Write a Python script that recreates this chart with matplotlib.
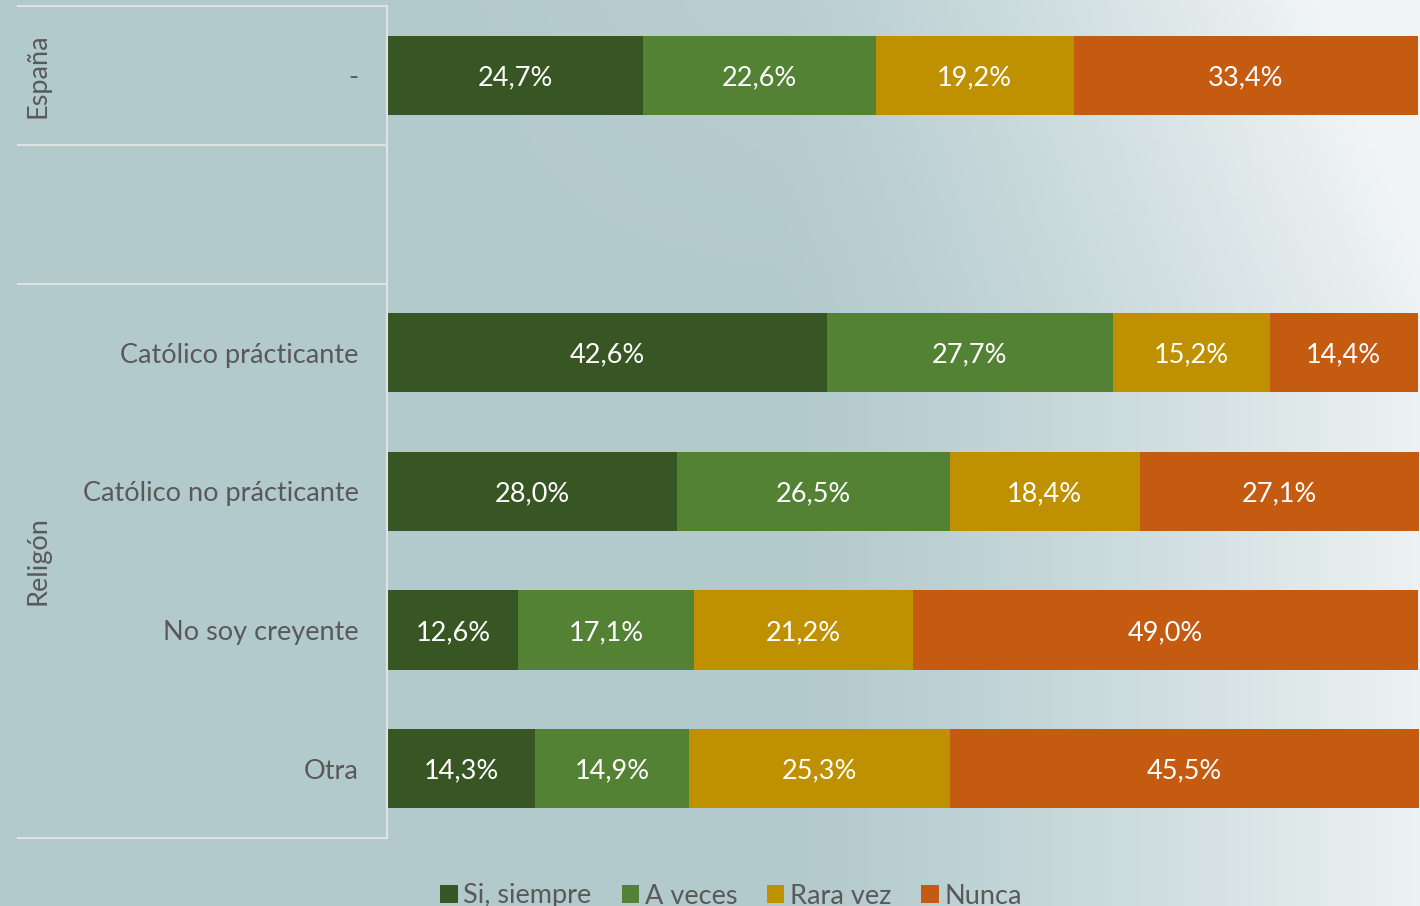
"""
Frecuencia por religión - barras apiladas 100%
"""
import numpy as np
import matplotlib
matplotlib.use('Agg')
from matplotlib import pyplot as plt
from matplotlib.lines import Line2D

plt.rcParams['font.family'] = ['Lato', 'DejaVu Sans']

rowLabels = ['-', '', 'Católico prácticante', 'Católico no prácticante',
             'No soy creyente', 'Otra']
seriesNames = ['Si, siempre', 'A veces', 'Rara vez', 'Nunca']
siempre = [24.7, np.nan, 42.6, 28.0, 12.6, 14.3]
aVeces = [22.6, np.nan, 27.7, 26.5, 17.1, 14.9]
raraVez = [19.2, np.nan, 15.2, 18.4, 21.2, 25.3]
nunca = [33.4, np.nan, 14.4, 27.1, 49.0, 45.5]
colors = ['#375623', '#548235', '#bf9000', '#c55a11']
textColor = '#595959'
fs = 19.5

W, H = 1420, 906
fig = plt.figure(figsize=(W / 100, H / 100), dpi=100)

# fondo degradado
bg = fig.add_axes([0, 0, 1, 1], zorder=-10)
xx, yy = np.meshgrid(np.linspace(0, 1, 300), np.linspace(0, 1, 200))
base = np.array([179, 202, 205]) / 255
light = np.array([240, 244, 245]) / 255
w = np.clip((xx - 0.55) / 0.45, 0, 1) ** 1.3 * 0.95
w += np.clip(0.35 - yy, 0, 1) * np.clip((xx - 0.3) / 0.7, 0, 1) * 0.8
w = np.clip(w, 0, 1)[..., None]
img = base * (1 - w) + light * w
bg.imshow(img, extent=[0, 1, 0, 1], aspect='auto', origin='upper')
bg.set_axis_off()

ax = fig.add_axes([388 / W, 1 - 838 / H, (1419 - 388) / W, 832 / H])
ax.patch.set_alpha(0)
ypos = np.arange(len(rowLabels))
left = np.zeros(len(rowLabels))
for vals, col, name in zip([siempre, aVeces, raraVez, nunca], colors, seriesNames):
    v = np.nan_to_num(np.array(vals, dtype=float))
    ax.barh(ypos, v, left=left, height=0.57, color=col, label=name)
    for y, (l, val) in enumerate(zip(left, v)):
        if val > 0:
            ax.text(l + val / 2, y, f'{val:.1f}%'.replace('.', ','),
                    ha='center', va='center_baseline', color='white', fontsize=fs)
    left += v

ax.set_xlim(0, 100)
ax.set_ylim(len(rowLabels) - 0.5, -0.5)
ax.set_xticks([])
ax.set_yticks(ypos)
ax.set_yticklabels(rowLabels, fontsize=fs, color=textColor, va='center_baseline')
ax.tick_params(axis='y', length=0, pad=21)
for s in ax.spines.values():
    s.set_visible(False)

# líneas de agrupación
lineCol = '#dfe3e4'
for ypx in [6, 145, 284, 838]:
    fig.add_artist(Line2D([18 / W, 387 / W], [1 - ypx / H] * 2, color=lineCol, lw=1.5))
fig.add_artist(Line2D([387 / W] * 2, [1 - 6 / H, 1 - 838 / H], color=lineCol, lw=1.5))

fig.text(38 / W, 1 - 76 / H, 'España', rotation=90, ha='center', va='center',
         fontsize=fs, color=textColor)
fig.text(38 / W, 1 - 561 / H, 'Religón', rotation=90, ha='center', va='center',
         fontsize=fs, color=textColor)

handles, labels = ax.get_legend_handles_labels()
fig.legend(handles, labels, loc='center', bbox_to_anchor=(731 / W, 1 - 896 / H),
           ncol=4, frameon=False, fontsize=fs, labelcolor=textColor,
           handlelength=0.65, handleheight=0.65, handletextpad=0.2, columnspacing=1.1)

fig.savefig('out.png', dpi=100)
